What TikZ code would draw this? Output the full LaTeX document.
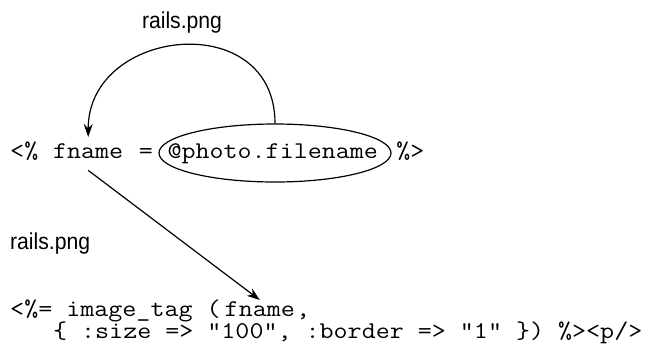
\documentclass[tikz,border=0pt]{standalone}
\usepackage{fontspec}
\newfontfamily\labfont{Liberation Sans}
\usetikzlibrary{arrows.meta,shapes.geometric}
\tikzset{
  code/.style={font=\fontsize{24}{28}\selectfont\ttfamily, inner sep=0pt, anchor=base west, xscale=1.135, transform shape},
  lab/.style={font=\fontsize{23}{26}\selectfont\labfont, inner sep=0pt, xscale=0.92, transform shape},
  arr/.style={line width=1.2pt, -{Stealth[length=13pt,width=9pt]}},
  ring/.style={draw, ellipse, line width=1.2pt, inner sep=0pt, minimum width=232pt, minimum height=58pt}
}
\begin{document}
\begin{tikzpicture}[x=1pt,y=-1pt]
\useasboundingbox (0,0) rectangle (659,349);
% line 1
\node[code] (l1a) at (10,158) {<\%};
\node[code] (fn1) at (10+3*14.3,158) {fname};
\node[code] (eq) at (10+9*14.3,158) {=};
\node[code] (ph) at (10+11*14.3,158) {@photo.filename};
\node[code] (l1c) at (10+27*14.3,158) {\%>};
\node[ring] (ell) at (275,153) {};
% line 2
\node[code] (l2a) at (10,316) {<\%= image\_tag (};
\node[code] (fn2) at (10+15*14.3,316) {fname};
\node[code] (l2c) at (10+20*14.3,316) {,};
% line 3
\node[code] (l3) at (10+3*14.3,338) {\{ :size => "100", :border => "1" \}) \%><p/>};
% labels
\node[lab, anchor=base] (r1) at (182,28) {rails.png};
\node[lab, anchor=base west] (r2) at (10,249) {rails.png};
% connectors
\coordinate (t1) at ([yshift=6pt]fn1.north);
\draw[arr] (ell.north) .. controls +(0,-116) and +(0,-110) .. (t1);
\coordinate (s2) at ([yshift=-12pt]fn1.south);
\coordinate (t2) at ([yshift=1pt]fn2.north);
\draw[arr] (s2) -- (t2);
\end{tikzpicture}
\end{document}
